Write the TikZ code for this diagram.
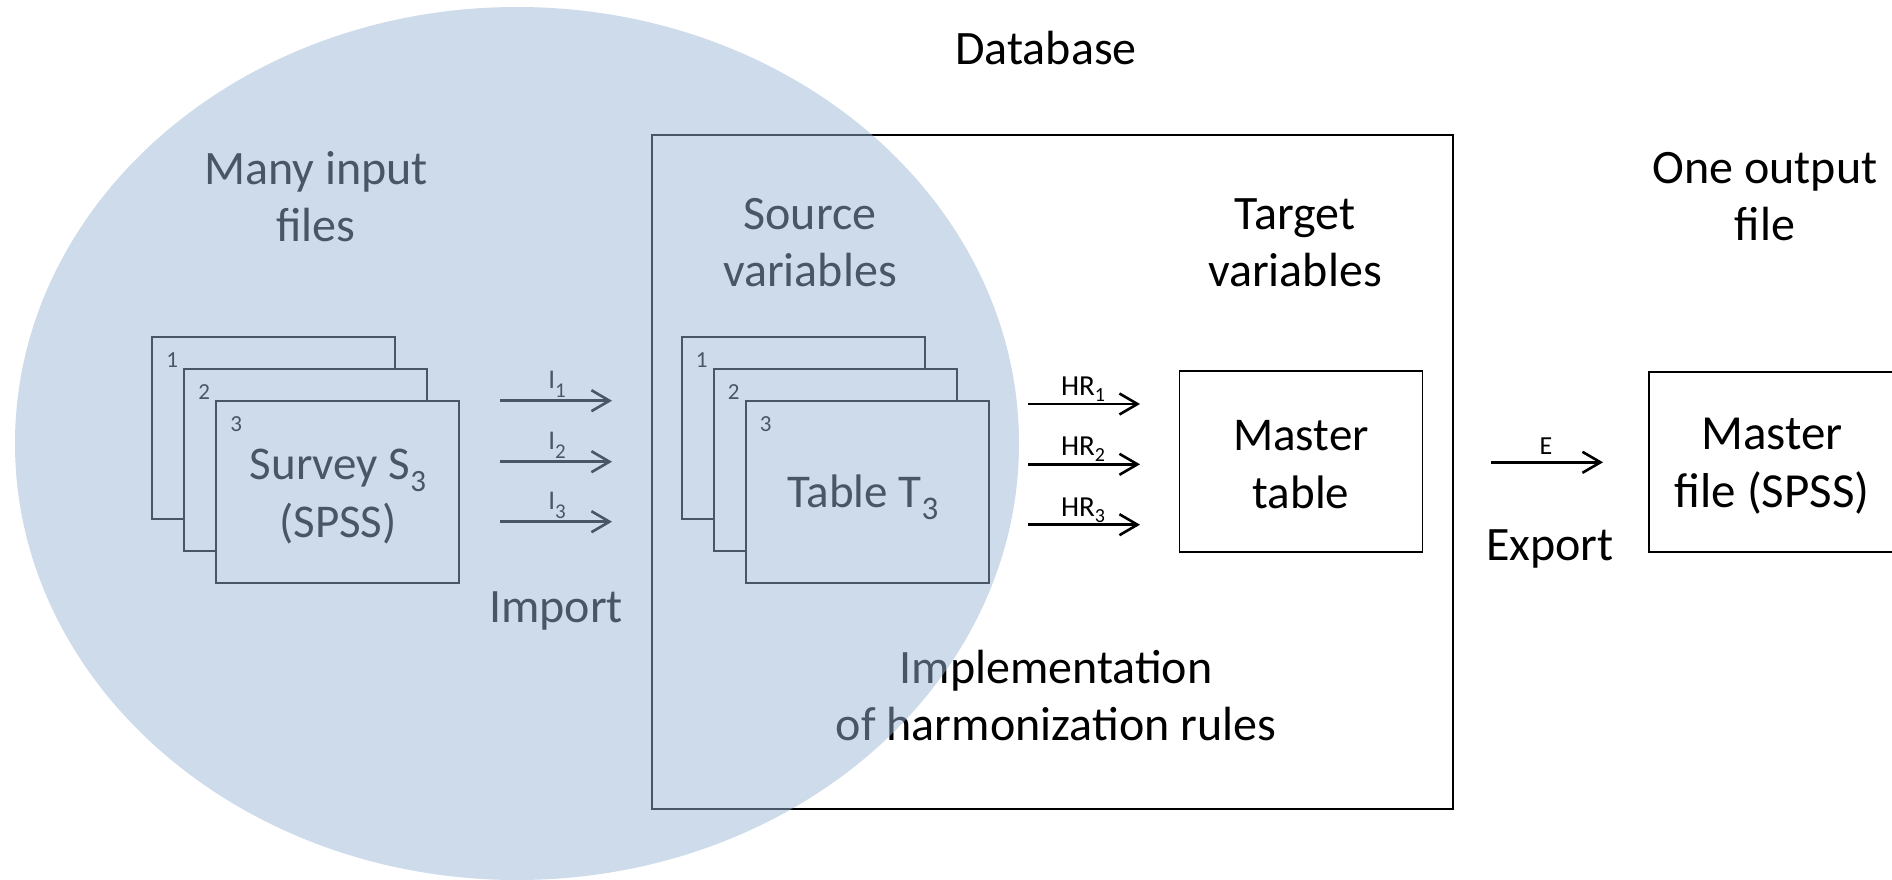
\documentclass[tikz,border=0pt]{standalone}
\usepackage{fontspec}
\setmainfont{Carlito}
\usetikzlibrary{arrows.meta}
\definecolor{ovblue}{RGB}{153,180,213}
\newcommand{\lsub}[3]{\raisebox{-#1}{\fontsize{#2}{#2}\selectfont #3}}
\tikzset{
  x=1pt, y=-1pt,
  frame/.style={draw=black, line width=1.8pt, fill=white, inner sep=0pt},
  sheet/.style={frame, minimum width=243pt, minimum height=182pt},
  numlab/.style={font=\fontsize{23}{26}\selectfont, inner sep=0pt, anchor=center},
  biglab/.style={font=\fontsize{48}{57}\selectfont, align=center, inner sep=0pt},
  boxlab/.style={font=\fontsize{47}{58}\selectfont, align=center, inner sep=0pt},
  arrlab/.style={font=\fontsize{29}{30}\selectfont, inner sep=0pt, anchor=base},
  flow/.style={line width=2.6pt, -{Straight Barb[length=18pt, width=21pt, line width=2.6pt]}}
}
\begin{document}
\begin{tikzpicture}
\useasboundingbox (0,0) rectangle (1892,880);

% database frame
\node[draw=black, line width=1.8pt, inner sep=0pt, minimum width=801pt, minimum height=674pt] (db) at (1052.5,472) {};
\node[biglab] (dbl) at (1046,48) {Database};

% headings
\node[biglab] (many) at (316,197) {Many input\\files};
\node[biglab] (src) at (810,243) {Source\\variables};
\node[biglab] (tgt) at (1295,243) {Target\\variables};
\node[biglab] (one) at (1765,197) {One output\\file};
\node[biglab] (imp) at (556,611) {Import};
\node[biglab] (exp) at (1550,549) {Export};
\node[biglab] (impl) at (1056,696) {Implementation\\of harmonization rules};

% survey sheets
\node[sheet] (s1) at (273.5,427.7) {};
\node[numlab] at ([xshift=21pt,yshift=-24pt]s1.north west) {1};
\node[sheet] (s2) at (305.5,459.7) {};
\node[numlab] at ([xshift=21pt,yshift=-24pt]s2.north west) {2};
\node[sheet] (s3) at (337.5,491.7) {};
\node[numlab] at ([xshift=21pt,yshift=-24pt]s3.north west) {3};
\node[boxlab] (s3t) at (338,497) {Survey S\lsub{12pt}{31}{3}\\(SPSS)};

% table sheets
\node[sheet] (t1) at (803.2,427.7) {};
\node[numlab] at ([xshift=21pt,yshift=-24pt]t1.north west) {1};
\node[sheet] (t2) at (835.2,459.7) {};
\node[numlab] at ([xshift=21pt,yshift=-24pt]t2.north west) {2};
\node[sheet] (t3) at (867.2,491.7) {};
\node[numlab] at ([xshift=21pt,yshift=-24pt]t3.north west) {3};
\node[boxlab] (t3t) at (863,497) {Table T\lsub{12pt}{33}{3}};

% master table & master file
\node[frame, minimum width=243pt, minimum height=181pt] (mt) at (1301,461.5) {};
\node[boxlab] (mtt) at (1301,465) {Master\\table};
\node[frame, minimum width=246pt, minimum height=180pt] (mf) at (1772,462) {};
\node[boxlab, font=\fontsize{49}{58}\selectfont] (mft) at (1772,466) {Master\\file (SPSS)};

% import arrows
\coordinate (ia1) at (500,400.7); \coordinate (ib1) at (612,400.7);
\coordinate (ia2) at (500,461.7); \coordinate (ib2) at (612,461.7);
\coordinate (ia3) at (500,521.7); \coordinate (ib3) at (612,521.7);
\draw[flow] (ia1) -- (ib1);
\draw[flow] (ia2) -- (ib2);
\draw[flow] (ia3) -- (ib3);
\node[arrlab, font=\fontsize{27}{30}\selectfont] at (557,388) {I\lsub{9pt}{21}{1}};
\node[arrlab, font=\fontsize{27}{30}\selectfont] at (557,449) {I\lsub{9pt}{21}{2}};
\node[arrlab, font=\fontsize{27}{30}\selectfont] at (557,509) {I\lsub{9pt}{21}{3}};

% harmonization arrows
\coordinate (ha1) at (1028,404); \coordinate (hb1) at (1140,404);
\coordinate (ha2) at (1028,464.3); \coordinate (hb2) at (1140,464.3);
\coordinate (ha3) at (1028,524.7); \coordinate (hb3) at (1140,524.7);
\draw[flow] (ha1) -- (hb1);
\draw[flow] (ha2) -- (hb2);
\draw[flow] (ha3) -- (hb3);
\node[arrlab] at (1083,395) {HR\lsub{6pt}{20}{1}};
\node[arrlab] at (1083,455) {HR\lsub{6pt}{20}{2}};
\node[arrlab] at (1083,516) {HR\lsub{6pt}{20}{3}};

% export arrow
\coordinate (ea) at (1491,462.3); \coordinate (eb) at (1603,462.3);
\draw[flow] (ea) -- (eb);
\node[arrlab, font=\fontsize{26}{30}\selectfont] at (1546,454) {E};

% translucent ellipse on top
\fill[ovblue, fill opacity=0.48] (517,443.5) ellipse [x radius=502pt, y radius=436.5pt];
\end{tikzpicture}
\end{document}
